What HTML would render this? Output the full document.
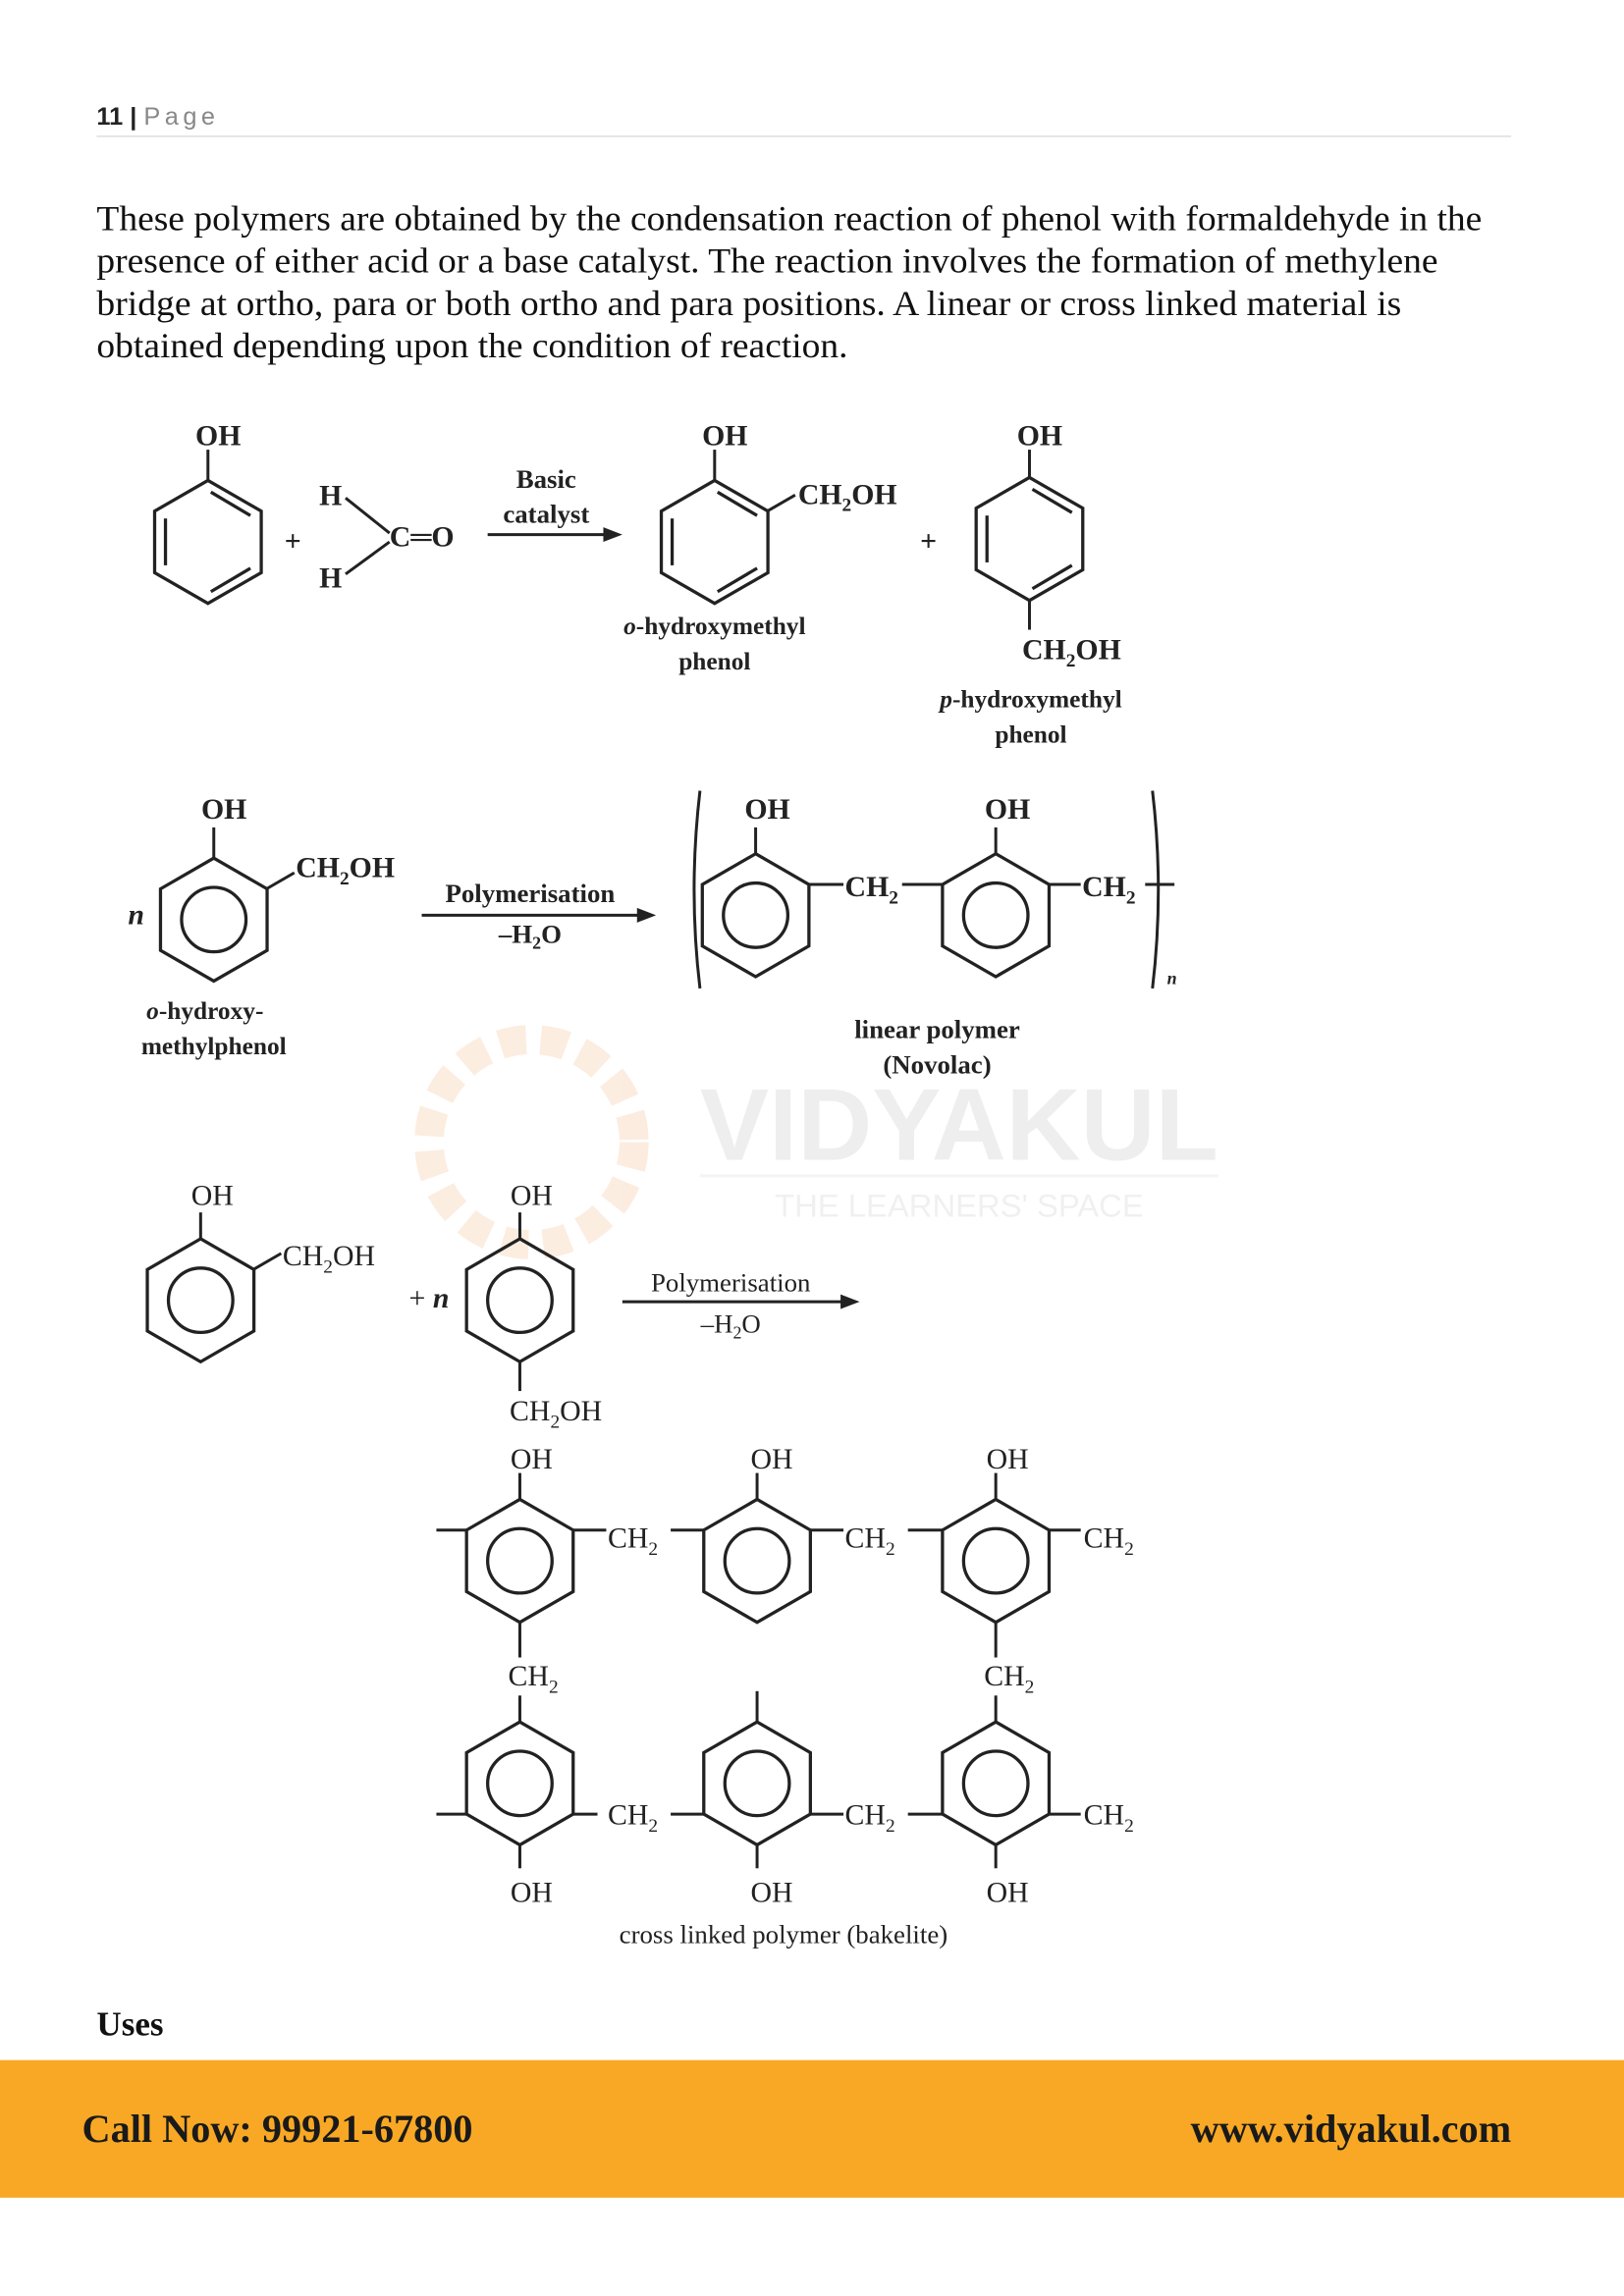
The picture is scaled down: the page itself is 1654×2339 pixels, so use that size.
<!DOCTYPE html>
<html><head><meta charset="utf-8"><style>
html,body{margin:0;padding:0;background:#fff;}
svg{display:block}
</style></head><body>
<svg width="1654" height="2339" viewBox="0 0 1109 1568" xmlns="http://www.w3.org/2000/svg">
<defs>
<g id="hk" fill="none" stroke="#222" stroke-width="2.2">
<polygon points="0,-42 36.4,-21 36.4,21 0,42 -36.4,21 -36.4,-21"/>
<line x1="-29" y1="-16" x2="-29" y2="16"/><line x1="2" y1="-34" x2="29" y2="-18"/><line x1="2" y1="34" x2="29" y2="18"/>
</g>
<g id="hc" fill="none" stroke="#222" stroke-width="2.2">
<polygon points="0,-42 36.4,-21 36.4,21 0,42 -36.4,21 -36.4,-21"/>
<circle r="22"/>
</g>
</defs>
<g font-family="Liberation Sans, sans-serif">
<text x="66" y="85" font-size="17" font-weight="bold" fill="#222">11 <tspan>|</tspan> <tspan font-weight="normal" fill="#888" letter-spacing="3">Page</tspan></text>
</g>
<line x1="66" y1="93" x2="1032" y2="93" stroke="#ddd" stroke-width="1"/>
<g font-family="Liberation Serif, serif" font-size="24" fill="#111">
<text x="66" y="157" textLength="946" lengthAdjust="spacingAndGlyphs">These polymers are obtained by the condensation reaction of phenol with formaldehyde in the</text>
<text x="66" y="186" textLength="916" lengthAdjust="spacingAndGlyphs">presence of either acid or a base catalyst. The reaction involves the formation of methylene</text>
<text x="66" y="215" textLength="891" lengthAdjust="spacingAndGlyphs">bridge at ortho, para or both ortho and para positions. A linear or cross linked material is</text>
<text x="66" y="244" textLength="513" lengthAdjust="spacingAndGlyphs">obtained depending upon the condition of reaction.</text>
</g>
<!-- watermark -->
<g opacity="0.3">
<circle cx="363" cy="780" r="70" fill="none" stroke="#f6c39a" stroke-width="20" stroke-dasharray="18 10"/>
<text x="655" y="792" font-family="Liberation Sans, sans-serif" font-size="70" font-weight="bold" fill="#c8c8c8" text-anchor="middle" textLength="354" lengthAdjust="spacingAndGlyphs">VIDYAKUL</text>
<line x1="478" y1="803" x2="832" y2="803" stroke="#ddd" stroke-width="2"/>
<text x="655" y="831" font-family="Liberation Sans, sans-serif" font-size="22" fill="#d0d0d0" text-anchor="middle">THE LEARNERS' SPACE</text>
</g>
<g font-family="Liberation Serif, serif" font-weight="bold" font-size="20" fill="#222" stroke="#222" stroke-width="2">
<!-- row 1 -->
<use href="#hk" x="142" y="370"/>
<line x1="142" y1="328" x2="142" y2="307"/>
<text x="149" y="304" stroke="none" text-anchor="middle">OH</text>
<text x="200" y="376" stroke="none" text-anchor="middle">+</text>
<text x="218" y="345" stroke="none">H</text><text x="218" y="401" stroke="none">H</text>
<line x1="236" y1="340" x2="266" y2="364"/><line x1="236" y1="392" x2="266" y2="370"/>
<text x="266" y="373" stroke="none">C═O</text>
<text x="373" y="333" stroke="none" text-anchor="middle" font-size="18">Basic</text>
<text x="373" y="357" stroke="none" text-anchor="middle" font-size="18">catalyst</text>
<line x1="333" y1="365" x2="415" y2="365"/><polygon points="425,365 412,360 412,370" stroke="none"/>
<use href="#hk" x="488" y="370"/>
<line x1="488" y1="328" x2="488" y2="307"/>
<text x="495" y="304" stroke="none" text-anchor="middle">OH</text>
<line x1="524" y1="349" x2="543" y2="338"/>
<text x="545" y="344" stroke="none">CH<tspan font-size="13" dy="5">2</tspan><tspan dy="-5">OH</tspan></text>
<text x="488" y="433" stroke="none" text-anchor="middle" font-size="17"><tspan font-style="italic">o</tspan>-hydroxymethyl</text>
<text x="488" y="457" stroke="none" text-anchor="middle" font-size="17">phenol</text>
<text x="634" y="376" stroke="none" text-anchor="middle">+</text>
<use href="#hk" x="703" y="368"/>
<line x1="703" y1="326" x2="703" y2="307"/>
<text x="710" y="304" stroke="none" text-anchor="middle">OH</text>
<line x1="703" y1="410" x2="703" y2="430"/>
<text x="698" y="450" stroke="none">CH<tspan font-size="13" dy="5">2</tspan><tspan dy="-5">OH</tspan></text>
<text x="704" y="483" stroke="none" text-anchor="middle" font-size="17"><tspan font-style="italic">p</tspan>-hydroxymethyl</text>
<text x="704" y="507" stroke="none" text-anchor="middle" font-size="17">phenol</text>
<!-- row 2 -->
<use href="#hc" x="146" y="628"/>
<line x1="146" y1="586" x2="146" y2="565"/>
<text x="153" y="559" stroke="none" text-anchor="middle">OH</text>
<line x1="182" y1="607" x2="201" y2="596"/>
<text x="202" y="599" stroke="none">CH<tspan font-size="13" dy="5">2</tspan><tspan dy="-5">OH</tspan></text>
<text x="93" y="631" stroke="none" font-style="italic" text-anchor="middle">n</text>
<text x="140" y="696" stroke="none" text-anchor="middle" font-size="17"><tspan font-style="italic">o</tspan>-hydroxy-</text>
<text x="146" y="720" stroke="none" text-anchor="middle" font-size="17">methylphenol</text>
<text x="362" y="616" stroke="none" text-anchor="middle" font-size="18">Polymerisation</text>
<text x="362" y="644" stroke="none" text-anchor="middle" font-size="18">–H<tspan font-size="12" dy="4">2</tspan><tspan dy="-4">O</tspan></text>
<line x1="288" y1="625" x2="438" y2="625"/><polygon points="448,625 435,620 435,630" stroke="none"/>
<path d="M478,540 Q470,608 478,675" fill="none"/>
<use href="#hc" x="516" y="625"/>
<line x1="516" y1="583" x2="516" y2="565"/>
<text x="524" y="559" stroke="none" text-anchor="middle">OH</text>
<line x1="552" y1="604" x2="576" y2="604"/>
<text x="577" y="612" stroke="none">CH<tspan font-size="13" dy="5">2</tspan></text>
<line x1="616" y1="604" x2="644" y2="604"/>
<use href="#hc" x="680" y="625"/>
<line x1="680" y1="583" x2="680" y2="565"/>
<text x="688" y="559" stroke="none" text-anchor="middle">OH</text>
<line x1="716" y1="604" x2="738" y2="604"/>
<text x="739" y="612" stroke="none">CH<tspan font-size="13" dy="5">2</tspan></text>
<line x1="782" y1="604" x2="802" y2="604"/>
<path d="M787,540 Q795,608 787,675" fill="none"/>
<text x="797" y="672" stroke="none" font-style="italic" font-size="12">n</text>
<text x="640" y="709" stroke="none" text-anchor="middle" font-size="18">linear polymer</text>
<text x="640" y="733" stroke="none" text-anchor="middle" font-size="18">(Novolac)</text>
</g>
<g font-family="Liberation Serif, serif" font-size="20" fill="#222" stroke="#222" stroke-width="2">
<!-- row 3 -->
<use href="#hc" x="137" y="888"/>
<line x1="137" y1="846" x2="137" y2="828"/>
<text x="145" y="823" stroke="none" text-anchor="middle">OH</text>
<line x1="173" y1="867" x2="192" y2="856"/>
<text x="193" y="864" stroke="none">CH<tspan font-size="13" dy="5">2</tspan><tspan dy="-5">OH</tspan></text>
<text x="293" y="893" stroke="none" text-anchor="middle">+ <tspan font-style="italic" font-weight="bold">n</tspan></text>
<use href="#hc" x="355" y="888"/>
<line x1="355" y1="846" x2="355" y2="828"/>
<text x="363" y="823" stroke="none" text-anchor="middle">OH</text>
<line x1="355" y1="930" x2="355" y2="950"/>
<text x="348" y="970" stroke="none">CH<tspan font-size="13" dy="5">2</tspan><tspan dy="-5">OH</tspan></text>
<text x="499" y="882" stroke="none" text-anchor="middle" font-size="18">Polymerisation</text>
<text x="499" y="910" stroke="none" text-anchor="middle" font-size="18">–H<tspan font-size="12" dy="4">2</tspan><tspan dy="-4">O</tspan></text>
<line x1="425" y1="889" x2="577" y2="889"/><polygon points="587,889 574,884 574,894" stroke="none"/>
<!-- cross-linked -->
<use href="#hc" x="355" y="1066"/><use href="#hc" x="517" y="1066"/><use href="#hc" x="680" y="1066"/>
<line x1="355" y1="1024" x2="355" y2="1006"/><line x1="517" y1="1024" x2="517" y2="1006"/><line x1="680" y1="1024" x2="680" y2="1006"/>
<text x="363" y="1003" stroke="none" text-anchor="middle">OH</text>
<text x="527" y="1003" stroke="none" text-anchor="middle">OH</text>
<text x="688" y="1003" stroke="none" text-anchor="middle">OH</text>
<line x1="298" y1="1045" x2="319" y2="1045"/>
<line x1="391" y1="1045" x2="414" y2="1045"/><text x="415" y="1057" stroke="none">CH<tspan font-size="13" dy="5">2</tspan></text><line x1="458" y1="1045" x2="481" y2="1045"/>
<line x1="553" y1="1045" x2="576" y2="1045"/><text x="577" y="1057" stroke="none">CH<tspan font-size="13" dy="5">2</tspan></text><line x1="620" y1="1045" x2="644" y2="1045"/>
<line x1="716" y1="1045" x2="738" y2="1045"/><text x="740" y="1057" stroke="none">CH<tspan font-size="13" dy="5">2</tspan></text>
<line x1="355" y1="1108" x2="355" y2="1132"/><line x1="680" y1="1108" x2="680" y2="1132"/>
<text x="347" y="1151" stroke="none">CH<tspan font-size="13" dy="5">2</tspan></text>
<text x="672" y="1151" stroke="none">CH<tspan font-size="13" dy="5">2</tspan></text>
<line x1="355" y1="1158" x2="355" y2="1176"/><line x1="680" y1="1158" x2="680" y2="1176"/>
<line x1="517" y1="1155" x2="517" y2="1176"/>
<use href="#hc" x="355" y="1218"/><use href="#hc" x="517" y="1218"/><use href="#hc" x="680" y="1218"/>
<line x1="298" y1="1239" x2="319" y2="1239"/>
<line x1="391" y1="1239" x2="408" y2="1239"/><text x="415" y="1246" stroke="none">CH<tspan font-size="13" dy="5">2</tspan></text><line x1="458" y1="1239" x2="481" y2="1239"/>
<line x1="553" y1="1239" x2="576" y2="1239"/><text x="577" y="1246" stroke="none">CH<tspan font-size="13" dy="5">2</tspan></text><line x1="620" y1="1239" x2="644" y2="1239"/>
<line x1="716" y1="1239" x2="738" y2="1239"/><text x="740" y="1246" stroke="none">CH<tspan font-size="13" dy="5">2</tspan></text>
<line x1="355" y1="1260" x2="355" y2="1276"/><line x1="517" y1="1260" x2="517" y2="1276"/><line x1="680" y1="1260" x2="680" y2="1276"/>
<text x="363" y="1299" stroke="none" text-anchor="middle">OH</text>
<text x="527" y="1299" stroke="none" text-anchor="middle">OH</text>
<text x="688" y="1299" stroke="none" text-anchor="middle">OH</text>
<text x="535" y="1327" stroke="none" text-anchor="middle" font-size="18">cross linked polymer (bakelite)</text>
</g>
<text x="66" y="1390" font-family="Liberation Serif, serif" font-size="23.5" font-weight="bold" fill="#111">Uses</text>
<rect x="0" y="1407" width="1109" height="94" fill="#f8a824"/>
<text x="56" y="1463" font-family="Liberation Serif, serif" font-size="27" font-weight="bold" fill="#1a1a1a">Call Now: 99921-67800</text>
<text x="1032" y="1463" font-family="Liberation Serif, serif" font-size="27" font-weight="bold" fill="#1a1a1a" text-anchor="end">www.vidyakul.com</text>
</svg>
</body></html>
